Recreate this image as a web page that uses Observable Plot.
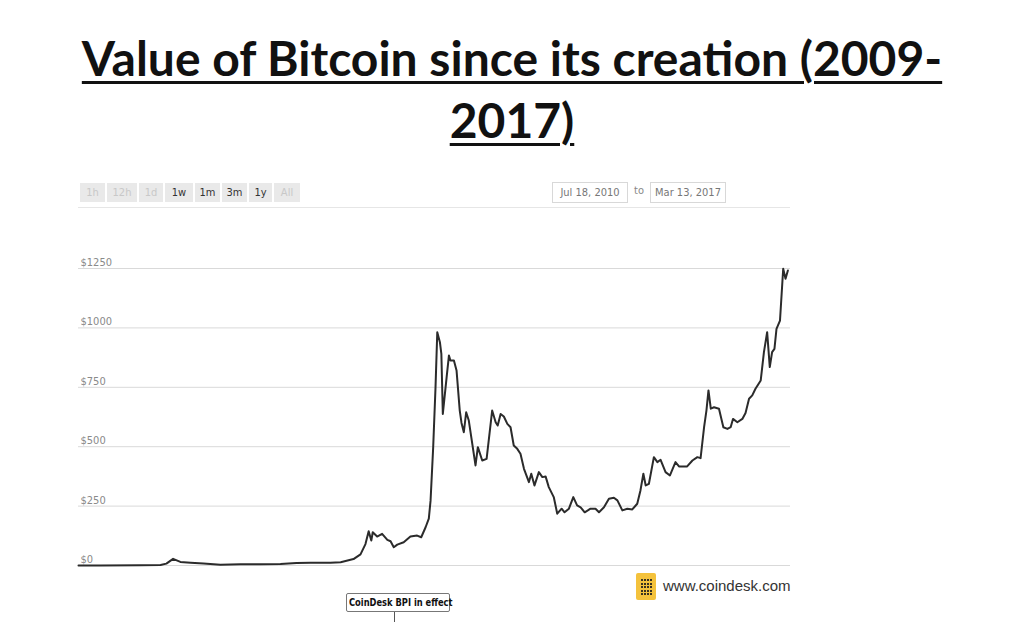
<!DOCTYPE html>
<html>
<head>
<meta charset="utf-8">
<script src="https://cdn.jsdelivr.net/npm/d3@7"></script>
<script src="https://cdn.jsdelivr.net/npm/@observablehq/plot@0.6"></script>
<style>
  html, body { margin: 0; padding: 0; background: #fff; }
  body { width: 1024px; height: 630px; position: relative; overflow: hidden; font-family: "Liberation Sans", Arial, sans-serif; }
  #title { position: absolute; left: 0; top: 27px; width: 1024px; text-align: center; font-family: Lato, "DejaVu Sans", sans-serif; font-weight: 700; font-size: 48px; line-height: 62px; color: #111; }
  #title span { text-decoration: underline; text-decoration-thickness: 3px; text-underline-offset: 5px; }
  #chart { position: absolute; left: 0; top: 0; }
  .btn { position: absolute; top: 183px; height: 19px; background: #e9e9e9; font-size: 11px; line-height: 19px; text-align: center; color: #c8c8c8; font-family: "Liberation Sans Narrow", "DejaVu Sans Condensed", "Liberation Sans", sans-serif; }
  .btn.on { color: #333; }
  .datebox { position: absolute; top: 182px; height: 19px; border: 1px solid #d8d8d8; font-size: 11px; line-height: 19px; text-align: center; color: #777; font-family: "Liberation Sans Narrow", "DejaVu Sans Condensed", sans-serif; }
  #to { position: absolute; left: 634px; top: 184px; font-size: 11px; color: #888; font-family: "Liberation Sans Narrow", "DejaVu Sans Condensed", sans-serif; }
  #sep { position: absolute; left: 78px; top: 207px; width: 712px; height: 1px; background: #e6e6e6; }
  #logo { position: absolute; left: 636px; top: 573px; width: 20px; height: 27px; background: #f4c23c; border-radius: 2px; }
  #logotext { position: absolute; left: 663px; top: 577px; font-size: 15px; color: #333; font-family: "Liberation Sans", Arial, sans-serif; }
  #bpi { position: absolute; left: 346px; top: 593px; width: 104px; height: 19px; border: 1px solid #777; border-radius: 2px; box-sizing: border-box; }
  #bpi span { position: absolute; left: 2px; top: 0; font-size: 11px; line-height: 18px; font-weight: 700; color: #111; white-space: nowrap; font-family: "DejaVu Sans Condensed", sans-serif; transform-origin: 0 50%; transform: scaleX(0.84); }
  #bpitick { position: absolute; left: 394px; top: 612px; width: 1px; height: 10px; background: #555; }
</style>
</head>
<body>
<div id="title"><span>Value of Bitcoin since its creation (2009-</span><br><span>2017)</span></div>
<div id="chart"></div>
<div id="sep"></div>
<div id="buttons"></div>
<div class="datebox" style="left:552px;width:74px;">Jul 18, 2010</div>
<div id="to">to</div>
<div class="datebox" style="left:650px;width:74px;">Mar 13, 2017</div>
<div id="logo"></div>
<div id="logotext">www.coindesk.com</div>
<div id="bpi"><span>CoinDesk BPI in effect</span></div>
<div id="bpitick"></div>
<script>
// ---- data ----
const rangeButtons = ["1h", "12h", "1d", "1w", "1m", "3m", "1y", "All"];
const activeButtons = ["1w", "1m", "3m", "1y"];
const yTicks = [0, 250, 500, 750, 1000, 1250];

const dates = [
  "2010-07-18","2010-10-01","2011-02-15","2011-04-25","2011-05-15","2011-06-07","2011-07-02","2011-08-06",
  "2011-09-19","2011-11-16","2012-01-24","2012-04-02","2012-06-09","2012-08-03","2012-09-20","2012-11-27",
  "2013-01-01","2013-02-14","2013-03-10","2013-03-27","2013-04-07","2013-04-16","2013-04-21","2013-05-06",
  "2013-05-23","2013-06-10","2013-06-21","2013-07-02","2013-07-14","2013-08-05","2013-08-28","2013-09-20",
  "2013-10-04","2013-10-19","2013-10-30","2013-11-05","2013-11-14","2013-11-22","2013-11-28","2013-12-07",
  "2013-12-12","2013-12-17","2013-12-30","2014-01-07","2014-01-12","2014-01-24","2014-02-02","2014-02-13",
  "2014-02-19","2014-02-27","2014-03-07","2014-03-16","2014-04-08","2014-04-16","2014-05-01","2014-05-16",
  "2014-06-04","2014-06-16","2014-06-23","2014-07-03","2014-07-14","2014-07-26","2014-08-06","2014-08-17",
  "2014-08-29","2014-09-09","2014-09-21","2014-10-08","2014-10-16","2014-10-27","2014-11-11","2014-11-23",
  "2014-12-04","2014-12-15","2015-01-01","2015-01-13","2015-01-28","2015-02-07","2015-02-22","2015-03-09",
  "2015-03-22","2015-04-03","2015-04-17","2015-05-07","2015-05-24","2015-06-05","2015-06-22","2015-07-09",
  "2015-07-26","2015-08-07","2015-08-24","2015-09-10","2015-09-27","2015-10-14","2015-10-25","2015-11-04",
  "2015-11-12","2015-11-23","2015-12-10","2015-12-22","2016-01-02","2016-01-19","2016-02-03","2016-02-22",
  "2016-03-05","2016-04-02","2016-04-20","2016-05-07","2016-05-18","2016-05-30","2016-06-07","2016-06-14",
  "2016-06-22","2016-07-03","2016-07-20","2016-08-04","2016-08-18","2016-08-29","2016-09-06","2016-09-21",
  "2016-10-08","2016-10-19","2016-10-31","2016-11-11","2016-11-22","2016-12-10","2016-12-21","2017-01-01",
  "2017-01-10","2017-01-18","2017-01-26","2017-02-02","2017-02-14","2017-02-25","2017-03-05","2017-03-13"
];
const prices = [
  0.07, 0.1, 1, 2, 8, 28, 15, 12,
  8, 3, 5, 5, 6, 11, 12, 12,
  14, 27, 47, 90, 144, 105, 140, 122,
  133, 108, 102, 77, 88, 98, 122, 126,
  119, 161, 197, 273, 498, 750, 982, 940,
  891, 638, 792, 884, 863, 863, 821, 652,
  600, 561, 645, 610, 421, 498, 442, 449,
  652, 603, 589, 638, 627, 596, 582, 505,
  491, 470, 407, 351, 386, 337, 393, 372,
  375, 330, 288, 218, 239, 224, 239, 288,
  253, 245, 224, 239, 239, 224, 245, 281,
  285, 274, 232, 239, 236, 260, 316, 386,
  337, 344, 456, 435, 445, 393, 379, 435,
  417, 417, 442, 456, 452, 582, 652, 737,
  660, 666, 660, 582, 575, 582, 617, 603,
  617, 642, 702, 716, 744, 779, 898, 982,
  835, 898, 912, 996, 1031, 1249, 1207, 1242
];
const xStart = "2010-07-18";
const xEnd = "2017-03-22";

const series = dates.map((d, i) => ({date: new Date(d), price: prices[i]}));

// buttons
const btnLefts = [80, 107, 139, 165, 195, 222, 249, 274];
const btnWidths = [25, 30, 24, 28, 25, 25, 23, 26];
const bwrap = document.getElementById("buttons");
rangeButtons.forEach((b, i) => {
  const el = document.createElement("div");
  el.className = "btn" + (activeButtons.includes(b) ? " on" : "");
  el.style.left = btnLefts[i] + "px";
  el.style.width = btnWidths[i] + "px";
  el.textContent = b;
  bwrap.appendChild(el);
});

const chart = Plot.plot({
  width: 1024,
  height: 630,
  marginLeft: 78,
  marginRight: 234,
  marginTop: 268,
  marginBottom: 65,
  x: {type: "utc", domain: [new Date(xStart), new Date(xEnd)], axis: null},
  y: {domain: [0, 1250]},
  marks: [
    Plot.gridY(yTicks, {stroke: "#d9d9d9", strokeOpacity: 1}),
    Plot.axisY(yTicks, {
      tickSize: 0, tickPadding: 0, textAnchor: "start", dx: 2, dy: -6,
      tickFormat: d => "$" + d, fill: "#8a8a8a", fontSize: 11, label: null
    }),
    Plot.line(series, {x: "date", y: "price", stroke: "#2b2b2b", strokeWidth: 2, curve: "linear"})
  ],
  style: {fontFamily: "'Liberation Sans Narrow', 'DejaVu Sans Condensed', sans-serif", background: "transparent"}
});
document.getElementById("chart").appendChild(chart);

// logo dots
const logo = document.getElementById("logo");
for (let r = 0; r < 5; r++) for (let c = 0; c < 4; c++) {
  const dot = document.createElement("div");
  dot.style.cssText = `position:absolute;width:2px;height:2px;background:#3a3220;left:${5 + c * 3}px;top:${6 + r * 3.5}px;`;
  logo.appendChild(dot);
}
</script>
</body>
</html>
